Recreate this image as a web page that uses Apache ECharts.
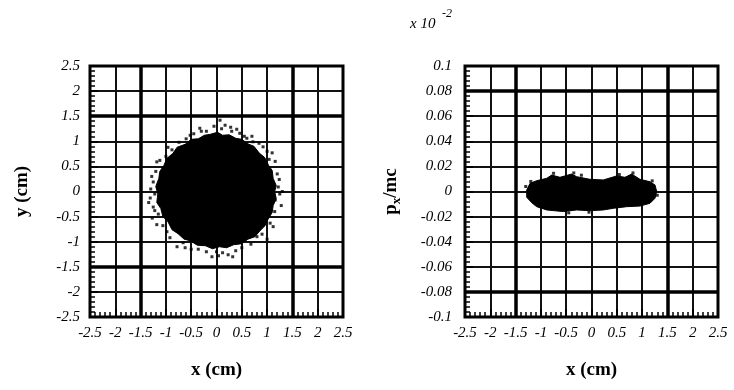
<!DOCTYPE html>
<html><head><meta charset="utf-8">
<script src="https://cdn.jsdelivr.net/npm/echarts@6/dist/echarts.min.js"></script>
<style>html,body{margin:0;padding:0;background:#fff}#c{width:734px;height:390px}</style>
</head><body><div id="c"></div>
<script>
// Axis ranges / ticks
const xRange = [-2.5, 2.5], xStep = 0.5;
const yRangeL = [-2.5, 2.5], yStepL = 0.5;
const yRangeR = [-0.1, 0.1], yStepR = 0.02;
const thickXL = [-1.5, 1.5];
const thickYL = [-1.5, 1.5];
const thickXR = [-1.5, 1.5];
const thickYR = [-0.08, 0.08];

// Left panel: y vs x — dense core outline + outlying particles
const leftCore = [[-0.12,1.14],[0.02,1.18],[0.12,1.12],[0.25,1.13],[0.38,1.06],[0.5,1.04],[0.62,0.95],[0.74,0.9],[0.85,0.76],[0.95,0.68],[1.03,0.52],[1.1,0.42],[1.12,0.26],[1.18,0.12],[1.15,0.0],[1.18,-0.14],[1.12,-0.28],[1.1,-0.42],[1.02,-0.55],[0.96,-0.68],[0.86,-0.78],[0.76,-0.9],[0.62,-0.95],[0.5,-1.04],[0.34,-1.06],[0.2,-1.12],[0.06,-1.1],[-0.08,-1.14],[-0.22,-1.08],[-0.38,-1.07],[-0.52,-0.98],[-0.64,-0.95],[-0.76,-0.84],[-0.88,-0.76],[-0.96,-0.6],[-1.06,-0.5],[-1.1,-0.34],[-1.18,-0.22],[-1.16,-0.05],[-1.2,0.1],[-1.14,0.26],[-1.12,0.4],[-1.04,0.52],[-0.98,0.66],[-0.86,0.76],[-0.78,0.88],[-0.62,0.94],[-0.5,1.04],[-0.36,1.05],[-0.24,1.12]];
const leftSpecks = [[0.07,1.42],[0.17,1.32],[-0.33,1.26],[0.46,1.16],[-0.88,0.83],[-1.18,0.59],[-1.25,0.19],[-1.31,-0.13],[-1.25,-0.31],[-1.27,-0.53],[-0.86,-0.67],[-0.78,-1.1],[-0.09,-1.3],[0.23,-1.26],[0.8,-0.9],[1.06,-0.63],[1.16,-0.17],[1.22,0.09],[1.1,0.77],[0.92,0.89],[0.72,0.99],[-0.2,1.2],[0.3,1.2],[-0.6,1.05],[-1.0,0.7],[-1.2,0.4],[-1.22,-0.05],[-1.15,-0.45],[-0.98,-0.8],[-0.5,-1.15],[0.0,-1.2],[0.5,-1.12],[0.9,-0.85],[1.15,-0.4],[1.2,0.35],[1.0,0.8],[0.55,1.1],[-0.45,1.15],[-1.3,0.05],[1.25,-0.05],
  [0.1,1.25],[-0.05,1.3],[0.28,1.28],[0.6,1.06],[0.84,0.96],[1.04,0.64],[1.24,0.24],[1.28,-0.28],[1.12,-0.7],[0.68,-1.05],[0.38,-1.18],[0.12,-1.22],[-0.2,-1.2],[-0.36,-1.15],[-0.66,-1.02],[-0.92,-0.92],[-1.06,-0.68],[-1.22,-0.38],[-1.28,0.3],[-1.12,0.62],[-0.96,0.88],[-0.74,0.98],[-0.52,1.12],[-0.3,1.2],[0.4,1.24],[0.7,1.1],[1.16,0.6],[1.3,0.0],[1.0,-0.95],[-1.34,-0.22],[-1.18,-0.66],[0.04,-1.28],[0.32,-1.3],[-0.62,-1.12]];

// Right panel: px/mc vs x — core outline + specks
const rightCore = [[-1.28,0.0012],[-1.215,0.0065],[-1.083,0.0086],[-0.885,0.0105],[-0.787,0.0131],[-0.623,0.0113],[-0.392,0.0139],[-0.293,0.0118],[-0.03,0.0097],[0.233,0.0092],[0.498,0.0124],[0.662,0.0113],[0.794,0.0139],[0.958,0.0097],[1.156,0.0078],[1.255,0.0052],[1.288,0.0],[1.255,-0.0054],[1.156,-0.0094],[0.958,-0.0116],[0.695,-0.0121],[0.431,-0.0134],[0.233,-0.0147],[-0.03,-0.0153],[-0.293,-0.0147],[-0.557,-0.016],[-0.885,-0.0147],[-1.083,-0.0121],[-1.182,-0.0089],[-1.28,-0.0046]];
const rightSpecks = [[-0.75,0.0145],[-0.35,0.0148],[0.82,0.0148],[0.55,0.0135],[-1.3,0.004],[-0.45,-0.017],[-0.05,-0.0165],[1.3,-0.003],[-1.2,0.008],[1.2,0.0085],[-0.2,0.013]];

function axisLabelStyle(){return {color:'#000',fontFamily:'Liberation Serif',fontStyle:'italic',fontSize:15};}
function xAxisCfg(idx){
  return {gridIndex:idx,type:'value',min:xRange[0],max:xRange[1],interval:xStep,
    axisLine:{show:false,onZero:false},
    axisTick:{show:true,inside:true,length:8,lineStyle:{color:'#000',width:2}},
    minorTick:{show:true,splitNumber:5,length:5,lineStyle:{color:'#000',width:1.5}},
    splitLine:{show:true,lineStyle:{color:'#111',width:2}},
    axisLabel:Object.assign({margin:9,showMinLabel:true,showMaxLabel:true,hideOverlap:false},axisLabelStyle()),
    name:'x (cm)',nameLocation:'middle',nameGap:44,
    nameTextStyle:{color:'#000',fontFamily:'Liberation Serif',fontWeight:'bold',fontSize:19}};
}
function yAxisCfg(idx,rng,step,name,gap,margin,fmt){
  return {gridIndex:idx,type:'value',min:rng[0],max:rng[1],interval:step,
    axisLine:{show:false,onZero:false},
    axisTick:{show:true,inside:true,length:8,lineStyle:{color:'#000',width:2}},
    minorTick:{show:true,splitNumber:5,length:5,lineStyle:{color:'#000',width:1.5}},
    splitLine:{show:true,lineStyle:{color:'#111',width:2}},
    axisLabel:Object.assign({margin:margin,showMinLabel:true,showMaxLabel:true,formatter:fmt},axisLabelStyle()),
    name:name,nameLocation:'middle',nameGap:gap,nameRotate:90,
    nameTextStyle:{color:'#000',fontFamily:'Liberation Serif',fontWeight:'bold',fontSize:19,
      rich:{a:{fontFamily:'Liberation Serif',fontWeight:'bold',fontSize:19,color:'#000'},
            s:{fontFamily:'Liberation Serif',fontWeight:'bold',fontSize:13,color:'#000',padding:[10,0,0,0]}}}};
}
function polySeries(idx,pts){
  return {type:'custom',xAxisIndex:idx,yAxisIndex:idx,data:[[0,0]],silent:true,z:5,
    renderItem:function(params,api){
      return {type:'polygon',shape:{points:pts.map(p=>api.coord(p))},style:{fill:'#000',stroke:'#000',lineWidth:1}};
    }};
}
function speckSeries(idx,pts){
  return {type:'scatter',xAxisIndex:idx,yAxisIndex:idx,data:pts,symbol:'rect',symbolSize:3,itemStyle:{color:'#000'},silent:true,z:5};
}
function thickLines(idx,xs,ys){
  return {type:'line',xAxisIndex:idx,yAxisIndex:idx,data:[],silent:true,z:3,
    markLine:{symbol:'none',silent:true,label:{show:false},lineStyle:{color:'#000',width:3.5,type:'solid'},
      data:xs.map(v=>({xAxis:v})).concat(ys.map(v=>({yAxis:v})))}};
}
function fmtL(v){return (Math.round(v*10)/10).toString();}
function fmtR(v){return (Math.round(v*100)/100).toString();}

const chart = echarts.init(document.getElementById('c'),null,{renderer:'canvas'});
chart.setOption({
  animation:false,
  backgroundColor:'#fff',
  grid:[
    {left:90,top:66,width:253,height:251,show:true,borderColor:'#000',borderWidth:3,backgroundColor:'transparent',z:4},
    {left:465,top:66,width:253,height:251,show:true,borderColor:'#000',borderWidth:3,backgroundColor:'transparent',z:4}
  ],
  xAxis:[xAxisCfg(0),xAxisCfg(1)],
  yAxis:[
    yAxisCfg(0,yRangeL,yStepL,'y (cm)',58,10,fmtL),
    yAxisCfg(1,yRangeR,yStepR,'{a|p}{s|x}{a|/mc}',62,13,fmtR)
  ],
  graphic:[
    {type:'text',left:410,top:17,style:{text:'x 10',fill:'#000',font:'italic 15px "Liberation Serif"'}},
    {type:'text',left:442,top:8,style:{text:'-2',fill:'#000',font:'italic 12px "Liberation Serif"'}}
  ],
  series:[
    thickLines(0,thickXL,thickYL),
    thickLines(1,thickXR,thickYR),
    polySeries(0,leftCore),
    speckSeries(0,leftSpecks),
    polySeries(1,rightCore),
    speckSeries(1,rightSpecks)
  ]
});
</script></body></html>
